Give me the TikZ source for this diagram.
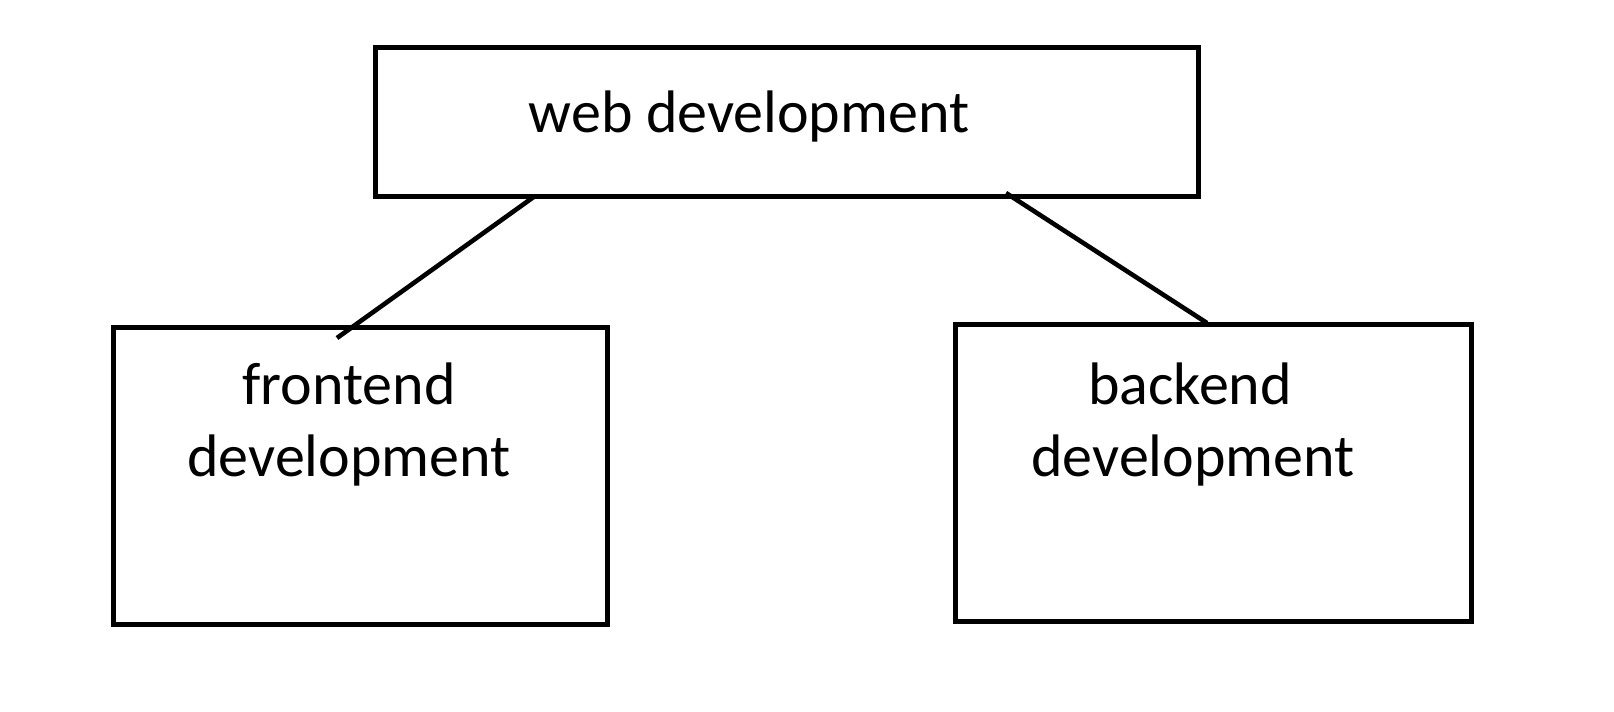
\documentclass[tikz,border=0pt]{standalone}
\usepackage{fontspec}
\setmainfont{Carlito}
\begin{document}
\begin{tikzpicture}[x=0.5pt,y=-0.5pt,
  box/.style={draw=black,line width=2.5pt,rectangle,inner sep=0pt,fill=none},
  lbl/.style={anchor=base,inner sep=0pt,font=\fontsize{30pt}{36pt}\selectfont},
  link/.style={draw=black,line width=2.3pt}]
\fill[white] (0,0) rectangle (1614,712);
\useasboundingbox (0,0) rectangle (1614,712);
\node[box,minimum width=411.5pt,minimum height=74.5pt] (web) at (786.5,122) {};
\node[box,minimum width=247pt,minimum height=148.5pt] (front) at (360,476) {};
\node[box,minimum width=258pt,minimum height=148.5pt] (back) at (1213,472.5) {};
\node[lbl] (webt) at (749,132) {web development};
\node[lbl] (frontt1) at (349,404) {frontend};
\node[lbl] (frontt2) at (349,476) {development};
\node[lbl] (backt1) at (1190,404) {backend};
\node[lbl] (backt2) at (1193,476) {development};
\coordinate (wl) at (535,196);
\coordinate (fl) at (337,338);
\coordinate (wr) at (1006,193);
\coordinate (br) at (1207,323);
\draw[link] (wl) -- (fl);
\draw[link] (wr) -- (br);
\end{tikzpicture}
\end{document}
